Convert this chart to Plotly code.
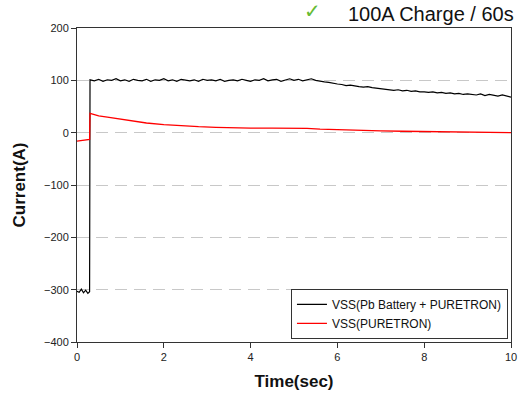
import plotly.graph_objects as go

# black trace: Pb battery + PURETRON
pb_time = [0.00, 0.05, 0.10, 0.15, 0.20, 0.25, 0.29,
           0.3, 0.4, 0.5, 0.6, 0.7, 0.8, 0.9, 1.0,
           1.1, 1.2, 1.3, 1.4, 1.5, 1.6, 1.7, 1.8, 1.9, 2.0,
           2.1, 2.2, 2.3, 2.4, 2.5, 2.6, 2.7, 2.8, 2.9, 3.0,
           3.1, 3.2, 3.3, 3.4, 3.5, 3.6, 3.7, 3.8, 3.9, 4.0,
           4.1, 4.2, 4.3, 4.4, 4.5, 4.6, 4.7, 4.8, 4.9, 5.0,
           5.1, 5.2, 5.3, 5.4, 5.5, 5.6, 5.7, 5.8, 5.9, 6.0,
           6.1, 6.2, 6.3, 6.4, 6.5, 6.6, 6.7, 6.8, 6.9, 7.0,
           7.1, 7.2, 7.3, 7.4, 7.5, 7.6, 7.7, 7.8, 7.9, 8.0,
           8.1, 8.2, 8.3, 8.4, 8.5, 8.6, 8.7, 8.8, 8.9, 9.0,
           9.1, 9.2, 9.3, 9.4, 9.5, 9.6, 9.7, 9.8, 9.9, 10.0]
pb_current = [-303, -305, -299, -306, -301, -307, -304,
              101, 99, 102, 98, 101, 100, 103, 99,
              101, 98, 102, 100, 99, 102, 98, 101, 100, 103,
              99, 101, 98, 102, 100, 99, 101, 98, 102, 100,
              101, 99, 102, 98, 100, 101, 99, 102, 100, 98,
              101, 100, 103, 99, 101, 102, 98, 101, 103, 100,
              102, 99, 101, 103, 100, 98, 97, 96, 94, 93,
              92, 90, 91, 89, 88, 87, 88, 86, 85, 85,
              84, 83, 81, 82, 80, 81, 79, 80, 78, 78,
              77, 78, 76, 77, 75, 76, 74, 75, 73, 74,
              73, 72, 74, 71, 73, 72, 70, 72, 70, 68]

# red trace: PURETRON only
pt_time = [0.0, 0.29, 0.3, 0.4, 0.5, 0.7, 0.83, 1.0, 1.3, 1.6, 2.0, 2.4, 2.8,
           3.2, 3.6, 4.0, 4.5, 5.0, 5.3, 5.6, 6.0, 6.5, 7.0, 7.5, 8.0,
           8.5, 9.0, 9.5, 10.0]
pt_current = [-16, -13, 37, 34, 32, 29.5, 28, 25.5, 21.5, 18.5, 15.5, 13, 11.5,
              10.3, 9.3, 8.8, 8.6, 8.5, 8.2, 6.8, 5.5, 4.4, 3.5, 2.7, 2.0,
              1.4, 0.9, 0.4, 0.0]

x_ticks = [0, 2, 4, 6, 8, 10]
y_ticks = [-400, -300, -200, -100, 0, 100, 200]

fig = go.Figure()
fig.add_trace(go.Scatter(x=pb_time, y=pb_current, mode="lines",
                         name="VSS(Pb Battery + PURETRON)",
                         line=dict(color="black", width=1.2)))
fig.add_trace(go.Scatter(x=pt_time, y=pt_current, mode="lines",
                         name="VSS(PURETRON)",
                         line=dict(color="red", width=1.3)))

fig.update_layout(
    width=520, height=403,
    margin=dict(l=77, r=9, t=28, b=61, autoexpand=False),
    paper_bgcolor="white", plot_bgcolor="white",
    font=dict(family="Arial, Liberation Sans, DejaVu Sans", color="#222", size=11),
    showlegend=True,
    legend=dict(x=0.993, y=0.01, xanchor="right", yanchor="bottom",
                bgcolor="white", bordercolor="#333", borderwidth=1,
                font=dict(size=12, color="#111"), tracegroupgap=0,
                itemwidth=30),
)
fig.update_xaxes(range=[0, 10], tickvals=x_ticks, ticks="outside", ticklen=5,
                 tickcolor="#333", showline=True, linecolor="#333", mirror=True,
                 showgrid=False, zeroline=False,
                 title=dict(text="<b>Time(sec)</b>", font=dict(size=17, color="#111"),
                            standoff=12))
fig.update_yaxes(range=[-400, 200], tickvals=y_ticks, ticks="outside", ticklen=5,
                 tickcolor="#333", showline=True, linecolor="#333", mirror=True,
                 showgrid=True, gridcolor="#c8c8c8", griddash="12px,7px", gridwidth=1,
                 zeroline=False,
                 title=dict(text="<b>Current(A)</b>", font=dict(size=17, color="#111"),
                            standoff=14))

fig.add_annotation(xref="paper", yref="paper", x=(312 - 77) / 434, y=1.0,
                   text="✓", showarrow=False, xanchor="center", yanchor="bottom",
                   yshift=4, font=dict(size=20, color="#66bb33"))
fig.add_annotation(xref="paper", yref="paper", x=(516 - 77) / 434, y=1.0,
                   text="100A Charge / 60s", showarrow=False, xanchor="right",
                   yanchor="bottom", yshift=1,
                   font=dict(size=20, color="#111"))

# drop the default page margin so the figure sits at the window's corner
fig.write_html("out.html", config={"displayModeBar": False},
               post_script="document.body.style.margin='0';")
